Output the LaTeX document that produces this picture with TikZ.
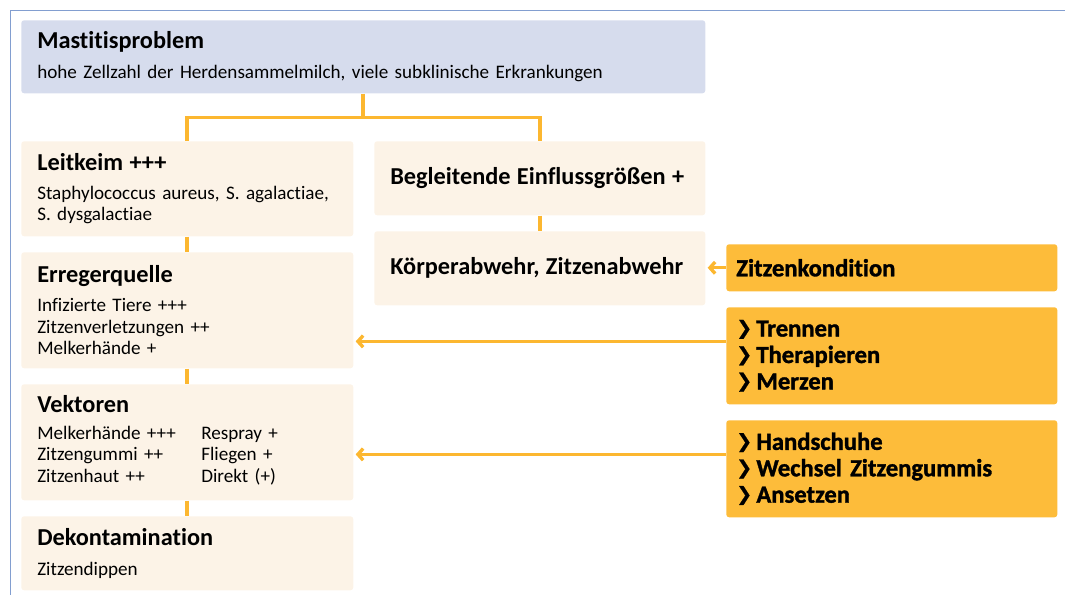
\documentclass[tikz,border=0pt]{standalone}
\usepackage{fontspec}
\setmainfont{Carlito}[Ligatures=NoCommon, WordSpace=0.9]
\newfontfamily\heavyfont{Carlito}[UprightFont=*-Bold, FakeBold=1.4, Ligatures=NoCommon, WordSpace=0.85]
\newfontfamily\markfont{DejaVu Sans}[FakeBold=1]
\usetikzlibrary{arrows.meta}
\definecolor{framblue}{RGB}{130,158,208}
\definecolor{headfill}{RGB}{214,220,237}
\definecolor{creamfill}{RGB}{252,243,231}
\definecolor{orangefill}{RGB}{253,188,58}
\definecolor{linkorange}{RGB}{252,183,48}
\newcommand{\bodysize}{\fontsize{13.6}{15.3}\selectfont}
\newcommand{\headsize}{\fontsize{17.3}{19}\selectfont\bfseries}
\newcommand{\actsize}{\fontsize{17.5}{18.8}\selectfont\heavyfont}
\newcommand{\chev}{\raisebox{1.6pt}{\markfont\fontsize{13.5}{13.5}\selectfont ❯}\hspace{3pt}}

\begin{document}
\begin{tikzpicture}[
	cream/.style={rectangle, rounded corners=2pt, fill=creamfill, anchor=north west, align=left, inner xsep=0.4cm, inner ysep=0pt, font=\bodysize},
	action/.style={rectangle, rounded corners=2pt, fill=orangefill, anchor=north west, align=left, inner xsep=0.25cm, inner ysep=0pt, font=\actsize, text width=7.775cm, minimum height=2.425cm},
	link/.style={draw=linkorange, line width=2.6pt},
	arr/.style={draw=linkorange, line width=2.4pt, -{Straight Barb[length=1.3mm,width=2.9mm]}, shorten >=1.5pt}
	]
			%%%%% START %%%%%
			
			\useasboundingbox (0, 0) rectangle (26.625, -14.875);
			\draw[framblue, line width=1pt] (26.625, -0.2625) -- (0.2625, -0.2625) -- (0.2625, -14.875);
			
			\node[cream, fill=headfill, text width=16.3cm, minimum height=1.825cm] (mastitis) at (0.525, -0.5)
				{{\headsize Mastitisproblem}\\[6pt] hohe Zellzahl der Herdensammelmilch, viele subklinische Erkrankungen};
			
			\node[cream, text width=7.5cm, minimum height=2.375cm] (leitkeim) at (0.525, -3.525)
				{{\headsize Leitkeim +++}\\[5pt] Staphylococcus aureus, S. agalactiae,\\ S. dysgalactiae};
			\node[cream, text width=7.5cm, minimum height=2.9cm] (erreger) at (0.525, -6.3)
				{{\headsize Erregerquelle}\\[5pt] Infizierte Tiere +++\\ Zitzenverletzungen ++\\ Melkerhände +};
			\node[cream, text width=7.5cm, minimum height=2.9cm] (vektoren) at (0.525, -9.6)
				{{\headsize Vektoren}\\[7pt]
				\begin{tabular}{@{}p{4.1cm}@{}l@{}}
				Melkerhände +++ & Respray +\\
				Zitzengummi ++ & Fliegen +\\
				Zitzenhaut ++ & Direkt (+)
				\end{tabular}};
			\node[cream, text width=7.5cm, minimum height=1.85cm] (dekont) at (0.525, -12.9)
				{{\headsize Dekontamination}\\[6pt] Zitzendippen};
			
			\node[cream, text width=7.475cm, minimum height=1.85cm] (begleit) at (9.35, -3.525)
				{\headsize Begleitende Einflussgrößen +};
			\node[cream, text width=7.475cm, minimum height=1.85cm] (koerper) at (9.35, -5.775)
				{\headsize Körperabwehr, Zitzenabwehr};
			
			\node[action, minimum height=1.175cm] (kondition) at (18.15, -6.1) {Zitzenkondition};
			\node[action] (trennen) at (18.15, -7.675) {\chev Trennen\\ \chev Therapieren\\ \chev Merzen};
			\node[action] (handschuhe) at (18.15, -10.5) {\chev Handschuhe\\ \chev Wechsel Zitzengummis\\ \chev Ansetzen};
			
			\coordinate (split) at ([yshift=-0.6cm]mastitis.south);
			\draw[link] (mastitis.south) -- (split);
			\draw[link] (leitkeim.north) |- (split) -| (begleit.north);
			\draw[link] (leitkeim.south) -- (erreger.north);
			\draw[link] (erreger.south) -- (vektoren.north);
			\draw[link] (vektoren.south) -- (dekont.north);
			\draw[link] (begleit.south) -- (koerper.north);
			
			\coordinate (tr) at ([yshift=0.36cm]trennen.west);
			\coordinate (hs) at ([yshift=0.36cm]handschuhe.west);
			\draw[arr] (kondition.west) -- (kondition.west -| koerper.east);
			\draw[arr] (tr) -- (tr -| erreger.east);
			\draw[arr] (hs) -- (hs -| vektoren.east);
			
			%%%%% END %%%%%
\end{tikzpicture}
\end{document}
